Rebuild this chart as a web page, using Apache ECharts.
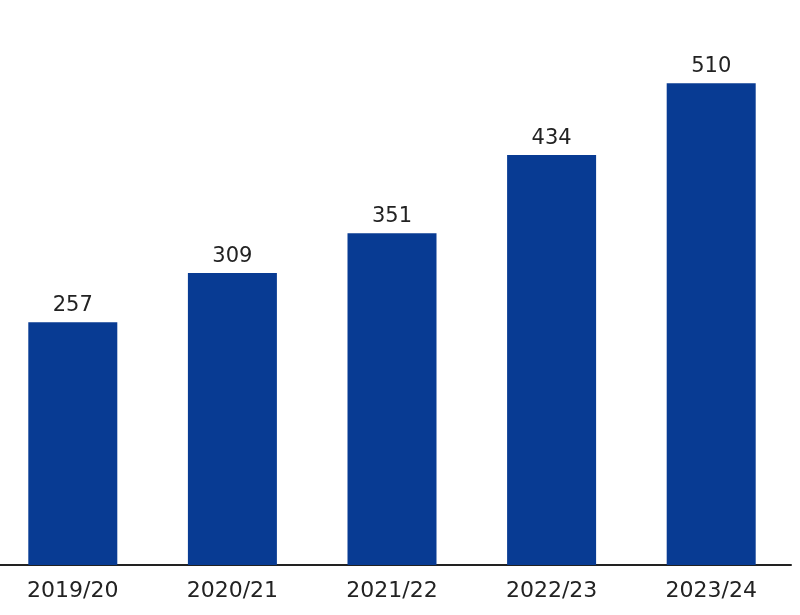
<!DOCTYPE html>
<html>
<head>
<meta charset="utf-8">
<script src="https://cdn.jsdelivr.net/npm/echarts@6/dist/echarts.min.js"></script>
<style>
html,body{margin:0;padding:0;background:#fff;}
#chart{width:800px;height:615px;}
</style>
</head>
<body>
<div id="chart"></div>
<script>
const categories = ['2019/20', '2020/21', '2021/22', '2022/23', '2023/24'];
const values = [257, 309, 351, 434, 510];

const chart = echarts.init(document.getElementById('chart'), null, {renderer: 'canvas'});
chart.setOption({
  animation: false,
  backgroundColor: '#ffffff',
  grid: {left: -7, right: 9, top: 0, bottom: 50, containLabel: false, outerBoundsMode: 'none'},
  xAxis: {
    type: 'category',
    data: categories,
    axisLine: {show: true, lineStyle: {color: '#222222', width: 2}},
    axisTick: {show: false},
    axisLabel: {
      color: '#222222',
      fontFamily: 'DejaVu Sans',
      fontSize: 22,
      margin: 15
    }
  },
  yAxis: {
    type: 'value',
    min: 0,
    max: 598,
    show: false,
    splitLine: {show: false}
  },
  series: [{
    type: 'bar',
    data: values,
    barWidth: 89,
    itemStyle: {color: '#083b93'},
    label: {
      show: true,
      position: 'top',
      distance: 6,
      color: '#222222',
      fontFamily: 'DejaVu Sans',
      fontSize: 21
    }
  }]
});
</script>
</body>
</html>
